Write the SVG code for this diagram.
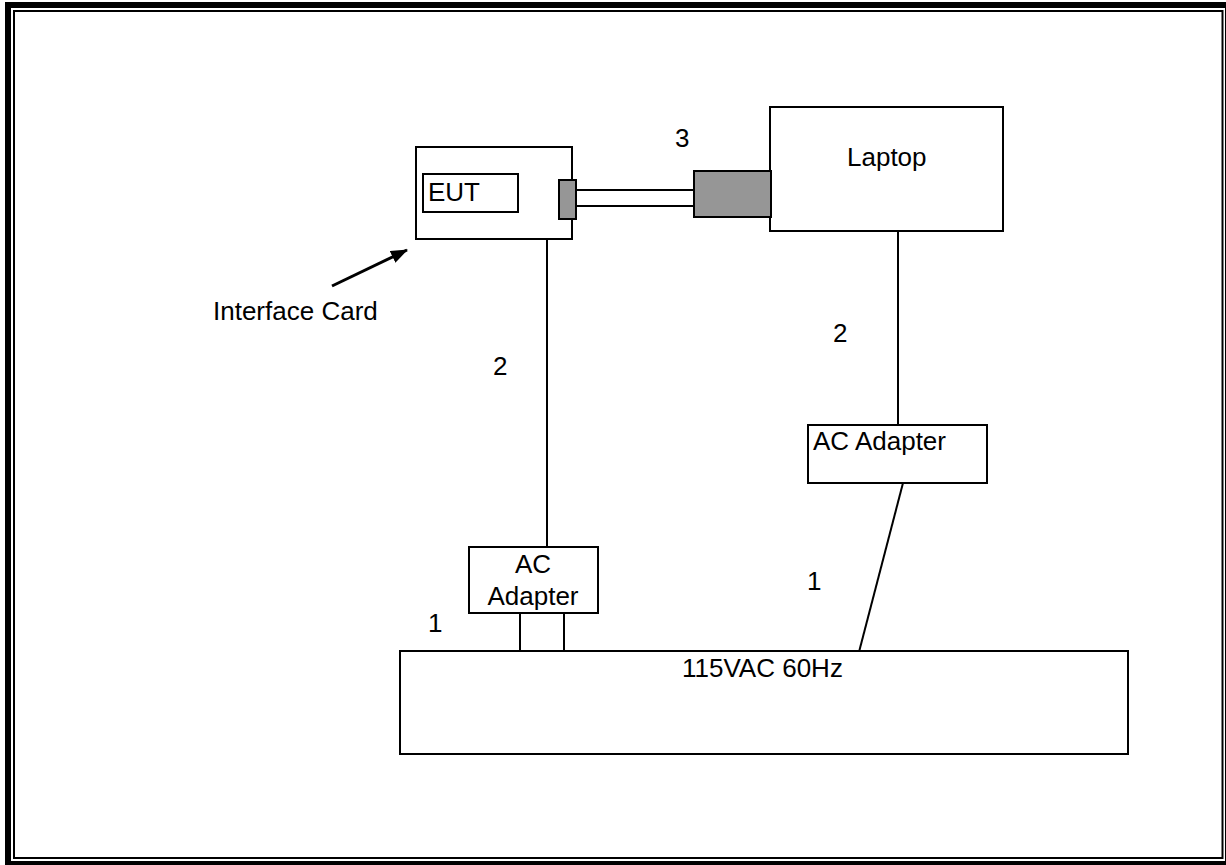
<svg xmlns="http://www.w3.org/2000/svg" width="1226" height="865" viewBox="0 0 1226 865">
<style>
.box{fill:#fff;stroke:#000;stroke-width:2}
.gray{fill:#969696;stroke:#000;stroke-width:2}
.ln{stroke:#000;stroke-width:2;fill:none}
text{font-family:"Liberation Sans",Arial,sans-serif;font-size:26px;fill:#000}
</style>
<defs>
<marker id="ah" markerWidth="17" markerHeight="13" refX="16" refY="6.5" orient="auto" markerUnits="userSpaceOnUse" viewBox="0 0 17 13">
<path d="M0,0 L17,6.5 L0,13 z" fill="#000"/>
</marker>
</defs>
<rect width="1226" height="865" fill="#fff"/>
<g id="frame">
<rect x="8" y="5" width="1220" height="859" fill="none" stroke="#000" stroke-width="6"/>
<rect x="14" y="11" width="1208.5" height="847" fill="none" stroke="#000" stroke-width="2"/>
</g>
<g id="connectors">
<line class="ln" x1="547" y1="239" x2="547" y2="547"/>
<line class="ln" x1="898" y1="231" x2="898" y2="425"/>
<line class="ln" x1="903" y1="483" x2="859" y2="652"/>
<line class="ln" x1="520" y1="613" x2="520" y2="651"/>
<line class="ln" x1="564" y1="613" x2="564" y2="651"/>
<line class="ln" x1="576" y1="190" x2="695" y2="190"/>
<line class="ln" x1="576" y1="206" x2="695" y2="206"/>
<line x1="332" y1="286" x2="407" y2="250" stroke="#000" stroke-width="3" marker-end="url(#ah)"/>
</g>
<g id="interface-card">
<rect class="box" x="416" y="147" width="156" height="92"/>
<g id="eut">
<rect class="box" x="423" y="174" width="95" height="38"/>
<text x="428" y="201">EUT</text>
</g>
<rect class="gray" x="559" y="180" width="17" height="39"/>
</g>
<g id="laptop">
<rect class="box" x="770" y="107" width="233" height="124"/>
<text x="847" y="166">Laptop</text>
</g>
<g id="laptop-connector">
<rect class="gray" x="694" y="171" width="77" height="46"/>
</g>
<g id="ac-adapter-left">
<rect class="box" x="469" y="547" width="129" height="66"/>
<text x="533" y="573" text-anchor="middle">AC</text>
<text x="533" y="605" text-anchor="middle">Adapter</text>
</g>
<g id="ac-adapter-right">
<rect class="box" x="808" y="425" width="179" height="58"/>
<text x="813" y="450">AC Adapter</text>
</g>
<g id="mains">
<rect class="box" x="400" y="651" width="728" height="103"/>
<text x="682" y="677">115VAC 60Hz</text>
</g>
<g id="labels">
<text x="213" y="320">Interface Card</text>
<text x="675" y="147">3</text>
<text x="493" y="375">2</text>
<text x="833" y="342">2</text>
<text x="807" y="590">1</text>
<text x="428" y="632">1</text>
</g>
</svg>
